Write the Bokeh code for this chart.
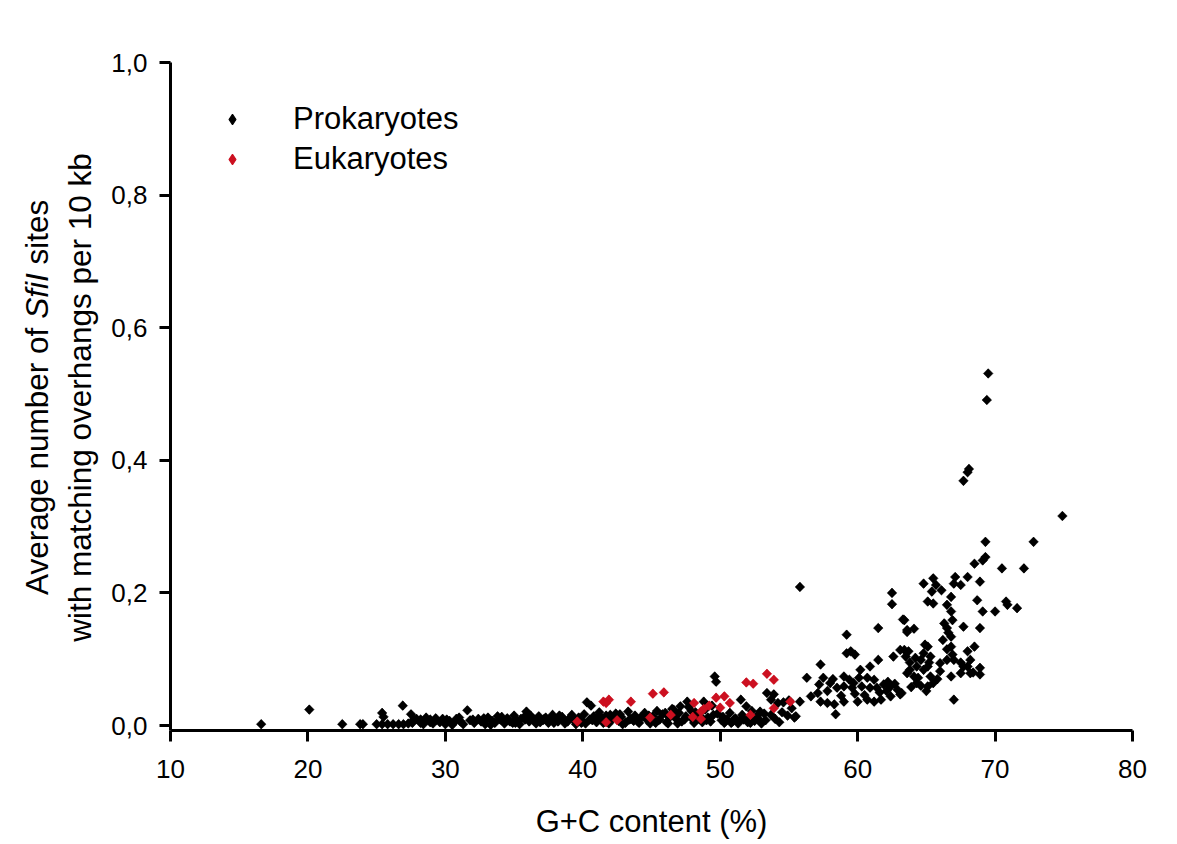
import math
from bokeh.plotting import figure
from bokeh.layouts import row
from bokeh.models import (FixedTicker, CustomJSTickFormatter, Range1d, Legend, LegendItem)
from bokeh.core.properties import value
from bokeh.embed import file_html
from bokeh.resources import INLINE

FONT = "Liberation Sans"
RED = "#cc1020"

# ---------------- data ----------------
prok_gc = [
    16.6, 20.1, 22.5, 23.8, 24.0, 25.0, 25.4, 25.5, 25.4, 25.8, 26.2, 26.6, 26.9, 26.95,
    27.3, 27.5, 27.7, 28.2, 28.6, 28.9, 29.3,
    27.6, 27.9, 28.2, 28.4, 28.6, 28.9, 29.1, 29.3, 29.6, 29.8, 30.0, 30.3, 30.6, 30.8,
    31.1, 31.3, 31.6, 31.8, 32.1, 32.4, 32.6, 32.9, 33.1, 33.4,
    33.6, 33.8, 34.0, 34.3, 34.5, 34.7, 35.0, 35.2, 35.4, 35.7, 35.9, 36.1, 36.4, 36.6,
    36.8, 37.1, 37.3, 37.5, 37.8, 38.0, 38.2, 38.5, 38.7, 39.0, 39.2, 39.4, 39.7, 39.9,
    30.1, 30.5, 31.0, 32.0, 32.8, 33.3, 34.1, 34.9, 35.5, 36.2, 36.9, 37.6, 38.3, 38.9, 39.5,
    40.1, 40.3, 40.6, 40.5, 40.8, 41.0, 41.2, 41.4, 41.7, 41.9, 42.1, 42.4, 42.6, 42.8,
    43.1, 43.3, 43.5, 43.8, 44.0, 44.2, 44.5, 44.7, 44.9,
    40.2, 41.1, 42.0, 42.9, 43.7, 44.4,
    45.1, 45.4, 45.6, 45.8, 46.1, 46.3, 46.5, 46.6, 46.8, 47.0, 47.1, 47.2, 47.5, 47.6,
    47.7, 48.0, 48.2, 48.4, 48.7, 48.8, 48.9, 49.1, 49.4, 49.6, 49.7, 49.8,
    45.3, 46.0, 46.9, 47.9, 48.5, 49.3,
    50.1, 50.3, 50.5, 50.7, 50.9, 51.0, 51.1, 51.3, 51.5, 51.6, 51.7, 51.9, 52.0, 52.1,
    52.3, 52.5, 52.7, 52.9, 53.0, 53.2, 53.4, 53.7, 53.9, 53.7, 54.0, 54.2, 54.5, 54.6,
    55.0, 55.2, 55.4, 55.8, 55.5, 55.8,
    56.3, 56.6, 57.3, 57.5, 57.2, 58.0, 59.0, 59.4, 60.1, 60.7, 61.2, 61.9, 62.4, 62.9,
    62.1, 61.4, 60.9, 60.3, 59.6, 59.0, 58.5, 57.8, 57.1, 57.3, 57.8, 58.3, 59.0, 60.0,
    60.7, 61.2, 61.7, 62.4, 63.1, 58.4, 59.2, 59.2, 59.8, 59.5, 61.5, 61.5, 60.9, 60.2,
    62.5, 62.5, 63.1, 63.7, 62.6, 63.5, 63.3, 63.6, 64.1,
    58.8, 59.8, 60.5, 61.6, 62.7, 62.2, 58.2, 59.7,
    64.9, 64.8, 65.3, 64.6, 64.3, 63.8, 63.6, 64.1, 64.8, 65.3, 65.5, 65.1, 64.3, 63.4,
    63.6, 63.4, 63.2, 65.1, 65.1,
    64.8, 65.5, 65.7, 65.4, 66.1, 65.1, 65.5, 67.1, 67.0, 67.5, 68.0, 68.9, 68.7, 69.1,
    70.0, 70.8, 70.9, 71.6, 68.5, 69.1, 69.3, 70.5, 72.1, 69.3, 72.8, 74.9, 69.5, 69.4,
    68.1, 68.0, 67.7,
    66.8, 66.5, 66.8, 66.9, 66.3, 66.5, 66.8, 66.2, 67.7, 68.9, 66.8, 66.9, 66.5, 66.0,
    68.0, 68.5, 68.2, 67.7, 68.9, 68.9, 68.2, 67.5, 66.8, 66.0, 67.0, 66.6, 66.5, 67.0,
    67.5, 68.0, 68.4,
    63.8, 64.4, 64.6, 65.0, 63.9, 64.2, 65.8, 65.2,
    34.4, 35.1, 35.8, 36.5, 37.2, 37.9, 38.6, 39.3, 40.0, 40.7, 41.5, 42.2, 42.7, 43.4,
    44.1, 44.8, 45.5, 46.2, 46.7, 47.4, 48.1, 48.6, 49.0, 49.5, 50.2, 50.8, 51.4, 52.2,
    52.8, 53.3, 54.3, 54.9,
]
prok_val = [
    0.002, 0.024, 0.002, 0.002, 0.002, 0.002, 0.019, 0.013, 0.002, 0.002, 0.002, 0.002, 0.030, 0.002,
    0.003, 0.017, 0.009, 0.009, 0.009, 0.009, 0.008,
    0.004, 0.010, 0.004, 0.002, 0.012, 0.005, 0.003, 0.011, 0.005, 0.010, 0.002, 0.007, 0.004, 0.010,
    0.006, 0.002, 0.023, 0.008, 0.004, 0.010, 0.006, 0.002, 0.012, 0.007,
    0.004, 0.014, 0.009, 0.003, 0.011, 0.006, 0.015, 0.008, 0.002, 0.012, 0.021, 0.006, 0.010, 0.003,
    0.014, 0.008, 0.012, 0.004, 0.016, 0.009, 0.006, 0.013, 0.003, 0.010, 0.016, 0.007, 0.012, 0.004,
    0.009, 0.001, 0.012, 0.009, 0.011, 0.001, 0.013, 0.004, 0.010, 0.015, 0.005, 0.010, 0.015, 0.006, 0.002,
    0.017, 0.035, 0.030, 0.009, 0.014, 0.005, 0.020, 0.011, 0.015, 0.003, 0.009, 0.018, 0.007, 0.013,
    0.004, 0.021, 0.010, 0.015, 0.006, 0.012, 0.019, 0.008, 0.003,
    0.003, 0.012, 0.016, 0.002, 0.007, 0.014,
    0.014, 0.022, 0.009, 0.017, 0.005, 0.012, 0.025, 0.024, 0.010, 0.019, 0.029, 0.006, 0.014, 0.036,
    0.028, 0.009, 0.020, 0.016, 0.005, 0.036, 0.024, 0.012, 0.030, 0.074, 0.066, 0.018,
    0.004, 0.019, 0.003, 0.022, 0.010, 0.006,
    0.008, 0.004, 0.009, 0.019, 0.006, 0.009, 0.011, 0.003, 0.039, 0.016, 0.009, 0.029, 0.005, 0.012,
    0.022, 0.007, 0.015, 0.021, 0.003, 0.018, 0.049, 0.039, 0.047, 0.016, 0.010, 0.034, 0.020, 0.035,
    0.038, 0.026, 0.012, 0.036, 0.014, 0.209,
    0.072, 0.044, 0.092, 0.072, 0.062, 0.064, 0.074, 0.069, 0.072, 0.072, 0.069, 0.062, 0.059, 0.054,
    0.052, 0.057, 0.057, 0.059, 0.057, 0.059, 0.057, 0.052, 0.049, 0.036, 0.034, 0.032, 0.036, 0.036,
    0.039, 0.036, 0.039, 0.044, 0.047, 0.017, 0.137, 0.109, 0.107, 0.112, 0.147, 0.099, 0.089, 0.084,
    0.200, 0.183, 0.114, 0.112, 0.104, 0.104, 0.160, 0.141, 0.146,
    0.045, 0.048, 0.046, 0.050, 0.063, 0.066, 0.070, 0.064,
    0.122, 0.109, 0.104, 0.099, 0.089, 0.084, 0.079, 0.074, 0.084, 0.074, 0.064, 0.059, 0.064, 0.114,
    0.144, 0.159, 0.049, 0.119, 0.089,
    0.214, 0.222, 0.212, 0.202, 0.204, 0.187, 0.184, 0.224, 0.214, 0.212, 0.224, 0.217, 0.189, 0.172,
    0.172, 0.187, 0.182, 0.177, 0.244, 0.249, 0.254, 0.237, 0.237, 0.277, 0.277, 0.316, 0.531, 0.491,
    0.387, 0.382, 0.369,
    0.194, 0.182, 0.172, 0.159, 0.154, 0.147, 0.134, 0.129, 0.149, 0.147, 0.119, 0.107, 0.099, 0.094,
    0.112, 0.119, 0.099, 0.089, 0.087, 0.077, 0.079, 0.079, 0.074, 0.082, 0.039, 0.140, 0.115, 0.099,
    0.095, 0.089, 0.080,
    0.095, 0.072, 0.060, 0.052, 0.058, 0.102, 0.070, 0.095,
    0.007, 0.004, 0.009, 0.006, 0.010, 0.004, 0.008, 0.011, 0.006, 0.008, 0.004, 0.011, 0.017,
    0.009, 0.004, 0.015, 0.008, 0.003, 0.014, 0.009, 0.004, 0.013, 0.008, 0.016, 0.013, 0.004,
    0.007, 0.004, 0.010, 0.008, 0.005, 0.015,
]

euk_gc = [39.6, 41.5, 41.9, 41.7, 41.7, 42.5, 43.5, 44.9, 45.1, 45.9, 46.4, 48.0, 48.1, 48.6,
          48.6, 49.7, 50.0, 50.3, 50.7, 51.9, 52.4, 52.2, 53.4, 53.9, 53.9, 55.1, 49.2, 48.8]
euk_val = [0.006, 0.036, 0.039, 0.034, 0.005, 0.008, 0.036, 0.012, 0.048, 0.050, 0.016, 0.013,
           0.034, 0.021, 0.010, 0.042, 0.027, 0.044, 0.034, 0.065, 0.063, 0.016, 0.078, 0.069,
           0.026, 0.036, 0.030, 0.025]

x_ticks = [10, 20, 30, 40, 50, 60, 70, 80]
y_ticks = [0.0, 0.2, 0.4, 0.6, 0.8, 1.0]

x_title = "G+C content (%)"
y_title_1 = ["Average number of", "SfiI", "sites"]
y_title_1_styles = ["normal", "italic", "normal"]
y_title_2 = "with matching overhangs per 10 kb"
series_names = ["Prokaryotes", "Eukaryotes"]

# ---------------- layout constants ----------------
H = 844
LEFT_W = 100            # width of the strip that carries the rotated y title
MAIN_W = 1058
TOP, FRAME_H = 62, 668
BOTTOM = H - TOP - FRAME_H

# ---------------- y-title strip (frame aligned with the main frame) ----------------
t = figure(width=LEFT_W, height=H, x_range=Range1d(0, LEFT_W),
           y_range=Range1d(H - TOP - FRAME_H, H - TOP),   # data y == H - page y
           output_backend="svg", toolbar_location=None,
           min_border_left=0, min_border_right=0,
           min_border_top=TOP, min_border_bottom=BOTTOM)
t.axis.visible = False
t.grid.visible = False
t.outline_line_color = None
t.background_fill_color = "white"
t.border_fill_color = "white"

ARIAL = {"A": 667, "v": 500, "e": 556, "r": 333, "a": 556, "g": 556, " ": 278,
         "n": 556, "u": 556, "m": 833, "b": 556, "o": 556, "f": 278, "S": 667,
         "i": 222, "I": 278, "s": 500, "t": 278}


def text_w(s, size):
    return sum(ARIAL.get(c, 556) for c in s) / 1000.0 * size


fs = 31.5
center_y = H - 397          # vertical centre of the title block
line1_x = 36                # centre lines of the two rotated text lines
line2_x = 79
space = text_w(" ", fs)
widths = [text_w(s, fs) for s in y_title_1]
total = sum(widths) + space * (len(y_title_1) - 1)
pos = center_y - total / 2
for s, w, st in zip(y_title_1, widths, y_title_1_styles):
    t.text(x=[line1_x], y=[pos + w / 2], text=[s], angle=math.pi / 2,
           text_align="center", text_baseline="middle",
           text_font=value(FONT), text_font_size=value(f"{fs}px"),
           text_font_style=st, text_color="black")
    pos += w + space
t.text(x=[line2_x], y=[center_y], text=[y_title_2], angle=math.pi / 2,
       text_align="center", text_baseline="middle",
       text_font=value(FONT), text_font_size=value(f"{fs}px"), text_color="black")

# ---------------- main plot ----------------
p = figure(width=MAIN_W, height=H,
           x_range=Range1d(10, 80), y_range=Range1d(-0.0075, 1.0),
           output_backend="svg", toolbar_location=None,
           min_border_left=170 - LEFT_W, min_border_right=26,
           min_border_top=TOP, min_border_bottom=BOTTOM)
p.outline_line_color = None
p.grid.visible = False
p.background_fill_color = "white"
p.border_fill_color = "white"

for ax in (p.xaxis[0], p.yaxis[0]):
    ax.axis_line_width = 3
    ax.axis_line_color = "black"
    ax.major_tick_line_width = 3
    ax.major_tick_line_color = "black"
    ax.major_tick_out = 11
    ax.major_tick_in = 0
    ax.minor_tick_line_color = None
    ax.major_label_text_font = FONT
    ax.major_label_text_font_size = "26px"
    ax.major_label_text_color = "black"

p.xaxis.ticker = FixedTicker(ticks=x_ticks)
p.yaxis.ticker = FixedTicker(ticks=y_ticks)
p.yaxis.formatter = CustomJSTickFormatter(code="return tick.toFixed(1).replace('.', ',');")
p.yaxis.major_label_standoff = 12
p.xaxis.major_label_standoff = 18

p.xaxis.axis_label = x_title
p.xaxis.axis_label_text_font = FONT
p.xaxis.axis_label_text_font_size = "31px"
p.xaxis.axis_label_text_font_style = "normal"
p.xaxis.axis_label_text_color = "black"
p.xaxis.axis_label_standoff = 23

# diamond underlay (also supplies the legend symbol), rotated squares on top
d1 = p.scatter(prok_gc, prok_val, marker="diamond", size=8,
               fill_color="black", line_color="black", line_width=1.2)
r1 = p.scatter(prok_gc, prok_val, marker="square", angle=math.pi / 4, size=6.8,
               fill_color="black", line_color="black", line_width=0.5)
d2 = p.scatter(euk_gc, euk_val, marker="diamond", size=8,
               fill_color=RED, line_color=RED, line_width=1.2)
r2 = p.scatter(euk_gc, euk_val, marker="square", angle=math.pi / 4, size=6.8,
               fill_color=RED, line_color=RED, line_width=0.5)

legend = Legend(items=[LegendItem(label=series_names[0], renderers=[d1]),
                       LegendItem(label=series_names[1], renderers=[d2])],
                location=(49, 551), orientation="vertical",
                glyph_width=26, glyph_height=40, label_height=40,
                spacing=0, padding=0, margin=0, label_standoff=48,
                border_line_color=None, background_fill_alpha=0,
                label_text_font=FONT, label_text_font_size="31px",
                label_text_color="black")
p.add_layout(legend)

layout = row(t, p, spacing=0)
open("out.html", "w").write(file_html(layout, INLINE))
